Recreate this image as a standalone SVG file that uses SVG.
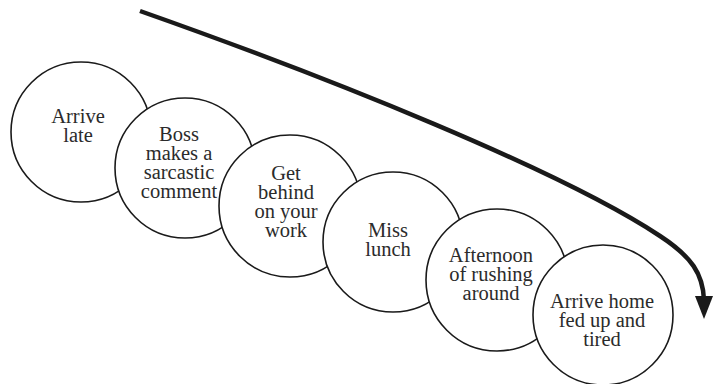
<svg xmlns="http://www.w3.org/2000/svg" width="715" height="384" viewBox="0 0 715 384">
  <style>
    .step circle { fill: #ffffff; stroke: #1a1a1a; stroke-width: 1.6; }
    .step text { font-family: "Liberation Serif", "Times New Roman", serif; font-size: 20.5px; fill: #2b2b2b; text-anchor: middle; }
    .flow { fill: none; stroke: #1a1a1a; stroke-width: 4.5; stroke-linecap: butt; }
    .head { fill: #1a1a1a; }
  </style>

  <rect width="715" height="384" fill="#ffffff"/>

  <!-- overall downward trend arrow -->
  <g id="connectors">
    <path class="flow" d="M140,11 C330,78 560,170 660,236 C692,257 703,274 704,300"/>
    <polygon class="head" points="695,296 713,296 704,319"/>
  </g>

  <!-- chain of events, each circle overlapping the previous one -->
  <g id="arrive-late" class="step">
    <circle cx="81" cy="132" r="70"/>
    <text x="78" y="123">Arrive</text>
    <text x="78" y="142">late</text>
  </g>

  <g id="boss-comment" class="step">
    <circle cx="185" cy="168" r="70"/>
    <text x="179" y="141">Boss</text>
    <text x="179" y="160">makes a</text>
    <text x="179" y="179">sarcastic</text>
    <text x="179" y="198">comment</text>
  </g>

  <g id="behind-on-work" class="step">
    <circle cx="290" cy="206" r="71"/>
    <text x="286" y="180">Get</text>
    <text x="286" y="199">behind</text>
    <text x="286" y="218">on your</text>
    <text x="286" y="237">work</text>
  </g>

  <g id="miss-lunch" class="step">
    <circle cx="393" cy="242" r="70"/>
    <text x="388" y="237">Miss</text>
    <text x="388" y="256">lunch</text>
  </g>

  <g id="afternoon-rushing" class="step">
    <circle cx="497" cy="280" r="71"/>
    <text x="491" y="262">Afternoon</text>
    <text x="491" y="281">of rushing</text>
    <text x="491" y="300">around</text>
  </g>

  <g id="arrive-home" class="step">
    <circle cx="603" cy="315" r="70"/>
    <text x="602" y="308">Arrive home</text>
    <text x="602" y="327">fed up and</text>
    <text x="602" y="346">tired</text>
  </g>
</svg>
